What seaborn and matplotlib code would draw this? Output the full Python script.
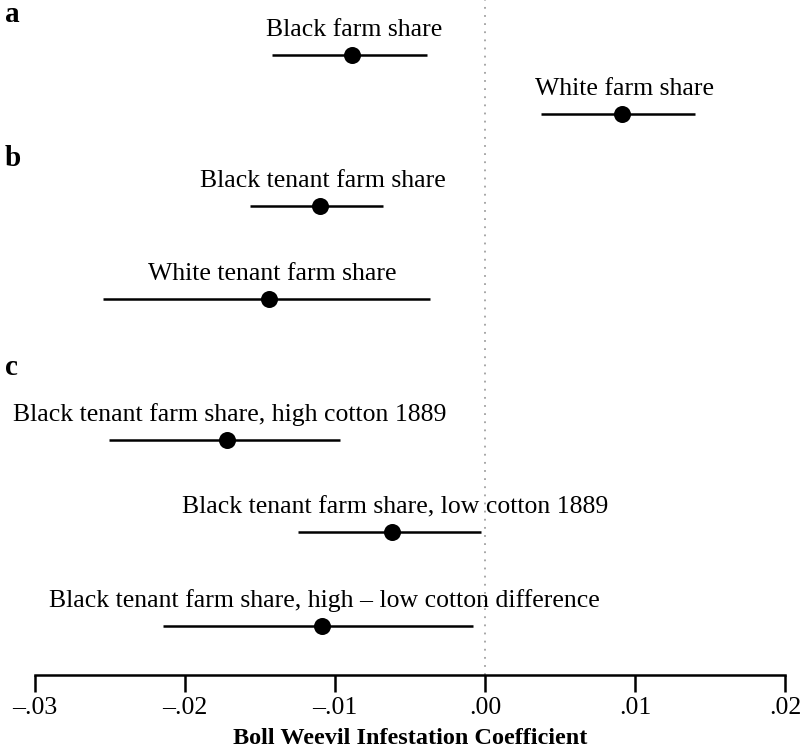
import matplotlib
matplotlib.use("Agg")
import matplotlib.pyplot as plt
import seaborn as sns
import pandas as pd

# data
labels = ["Black farm share", "White farm share",
          "Black tenant farm share", "White tenant farm share",
          "Black tenant farm share, high cotton 1889",
          "Black tenant farm share, low cotton 1889",
          "Black tenant farm share, high \u2013 low cotton difference"]
panel = ["a", "a", "b", "b", "c", "c", "c"]
coef = [-0.0089, 0.0091, -0.0110, -0.0144, -0.0172, -0.0062, -0.0109]
ci_low = [-0.0142, 0.0037, -0.0157, -0.0255, -0.0251, -0.0125, -0.0215]
ci_high = [-0.0039, 0.0140, -0.0068, -0.0037, -0.0097, -0.0003, -0.0008]
tick_vals = [-0.03, -0.02, -0.01, 0.00, 0.01, 0.02]
tick_labels = ["\u2013.03", "\u2013.02", "\u2013.01", ".00", ".01", ".02"]

# layout: vertical slot of each row (pixels from top of axes)
row_y = [55, 114, 206, 299, 440, 532, 626]
panel_y = {"a": 15, "b": 158, "c": 368}

df = pd.DataFrame({"label": labels, "panel": panel, "coef": coef,
                   "lo": ci_low, "hi": ci_high, "y": row_y})

sns.set_style("white")
plt.rcParams["font.family"] = ["Liberation Serif", "DejaVu Serif"]
plt.rcParams["text.color"] = "black"
plt.rcParams["axes.labelcolor"] = "black"
plt.rcParams["xtick.color"] = "black"

fig = plt.figure(figsize=(8, 7.5), dpi=100)
ax = fig.add_axes([35 / 800, 1 - 675 / 750, 750 / 800, 675 / 750])

ax.axvline(0, color="#a0a0a0", lw=1.3, ls=(0, (1, 3.5)), zorder=1)
ax.hlines(df["y"], df["lo"], df["hi"], color="black", lw=1.8, zorder=2)
sns.scatterplot(data=df, x="coef", y="y", color="black", s=150,
                edgecolor="black", linewidth=0, zorder=3, ax=ax, legend=False)

for _, r in df.iterrows():
    ax.text(r["coef"] + 0.0002, r["y"] - 14, r["label"], ha="center",
            va="bottom", fontsize=18.5, color="black")

for p, yy in panel_y.items():
    fig.text(5 / 800, 1 - yy / 750, p, fontsize=21, fontweight="bold",
             ha="left", va="center", color="black")

ax.set_xlim(-0.03, 0.02)
ax.set_ylim(675, 0)
ax.set_yticks([])
ax.set_ylabel("")
ax.set_xticks(tick_vals)
ax.set_xticklabels(tick_labels, fontsize=18.5)
ax.set_xlabel("Boll Weevil Infestation Coefficient", fontsize=17.5,
              fontweight="bold", labelpad=6)
ax.tick_params(axis="x", direction="out", length=12, width=1.8, pad=4,
               bottom=True, colors="black")
for s in ["top", "left", "right"]:
    ax.spines[s].set_visible(False)
ax.spines["bottom"].set_linewidth(1.8)
ax.spines["bottom"].set_color("black")
ax.patch.set_alpha(0)

fig.savefig("out.png", dpi=100)
